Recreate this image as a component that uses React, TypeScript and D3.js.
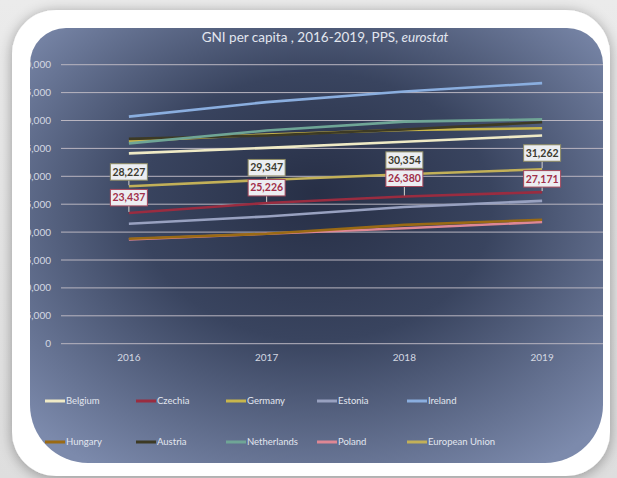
import React from "react";
import * as d3 from "d3";

const years = ["2016", "2017", "2018", "2019"];
const belgium = [34100, 35100, 36200, 37300];
const czechia = [23437, 25226, 26380, 27171];
const germany = [36300, 37500, 38300, 38600];
const estonia = [21500, 22800, 24500, 25600];
const ireland = [40700, 43300, 45200, 46700];
const hungary = [18800, 19700, 21300, 22200];
const austria = [36700, 37300, 38400, 39700];
const netherlands = [35900, 38200, 39800, 40200];
const poland = [18700, 19700, 20700, 21800];
const europeanUnion = [28227, 29347, 30354, 31262];
const yTicks = [0, 5000, 10000, 15000, 20000, 25000, 30000, 35000, 40000, 45000, 50000];

const seriesNames = ["Belgium", "Czechia", "Germany", "Estonia", "Ireland", "Hungary", "Austria", "Netherlands", "Poland", "European Union"];
const seriesValues = [belgium, czechia, germany, estonia, ireland, hungary, austria, netherlands, poland, europeanUnion];
const seriesColors = ["#efeac6", "#9a2c40", "#c8b64c", "#98a1c0", "#8aaedf", "#9a6a14", "#3d3a24", "#6fa596", "#de8794", "#c2b058"];
// draw order (back to front)
const drawOrder = [8, 5, 3, 1, 9, 0, 2, 6, 7, 4];

const W = 617;
const H = 478;
const panel = { x: 30, y: 28, w: 573, h: 435 };

export default function App() {
  const x = d3.scalePoint<string>().domain(years).range([60, 611]).padding(0.5);
  const y = d3.scaleLinear().domain([0, 50000]).range([343.7, 64.7]);
  const line = d3
    .line<number>()
    .x((_, i) => x(years[i]) as number)
    .y((d) => y(d));

  const fmt = d3.format(",");
  const labelSeries = [
    { idx: 9, lift: [6, 4, 6, 8], border: "#8e8b62", text: "#3b3a2e" },
    { idx: 1, lift: [7, 7, 10, 5], border: "#a4465a", text: "#a1304a" },
  ];

  const legendCols = [45, 136, 226, 317, 407];
  const legendRows = [401, 442];

  const p = panel;
  const r1 = 36;
  const r2 = 58;
  const panelPath = `M${p.x + r1},${p.y} H${p.x + p.w - r1} A${r1},${r1} 0 0 1 ${p.x + p.w},${p.y + r1} V${p.y + p.h - r2} A${r2},${r2} 0 0 1 ${p.x + p.w - r2},${p.y + p.h} H${p.x + r2} A${r2},${r2} 0 0 1 ${p.x},${p.y + p.h - r2} V${p.y + r1} A${r1},${r1} 0 0 1 ${p.x + r1},${p.y} Z`;

  const font = "Lato, 'Open Sans', sans-serif";

  return (
    <svg width={W} height={H} style={{ position: "absolute", left: 0, top: 0 }} fontFamily={font}>
      <defs>
        <radialGradient id="bg" cx="50%" cy="45%" r="68%" fx="50%" fy="38%">
          <stop offset="0%" stopColor="#272f46" />
          <stop offset="45%" stopColor="#39445f" />
          <stop offset="100%" stopColor="#7c8aac" />
        </radialGradient>
        <linearGradient id="page" x1="0" y1="0" x2="0" y2="1">
          <stop offset="0%" stopColor="#ebebeb" />
          <stop offset="100%" stopColor="#dedede" />
        </linearGradient>
        <filter id="shadow" x="-10%" y="-10%" width="120%" height="120%">
          <feGaussianBlur in="SourceAlpha" stdDeviation="7" />
          <feOffset dx="0" dy="2" result="b" />
          <feComponentTransfer>
            <feFuncA type="linear" slope="0.35" />
          </feComponentTransfer>
          <feMerge>
            <feMergeNode />
            <feMergeNode in="SourceGraphic" />
          </feMerge>
        </filter>
        <clipPath id="panelClip">
          <path d={panelPath} />
        </clipPath>
      </defs>

      <rect x={0} y={0} width={W} height={H} fill="url(#page)" />
      <rect x={12} y={10} width={598} height={466} rx={44} ry={44} fill="#ffffff" filter="url(#shadow)" />
      <path d={panelPath} fill="url(#bg)" />

      <g clipPath="url(#panelClip)">
        <text x={325} y={42} textAnchor="middle" fontSize={13.5} fill="#e2e6ef">
          GNI per capita , 2016-2019, PPS, <tspan fontStyle="italic">eurostat</tspan>
        </text>

        {yTicks.map((t) => (
          <g key={t}>
            <line x1={61} x2={612} y1={y(t)} y2={y(t)} stroke="#b9b5c0" strokeWidth={1} />
            <text x={51} y={y(t)} dy="0.35em" textAnchor="end" fontSize={10} fill="#d4d8e2">
              {fmt(t)}
            </text>
          </g>
        ))}

        {years.map((yr) => (
          <text key={yr} x={x(yr)} y={361} textAnchor="middle" fontSize={10} fill="#d4d8e2">
            {yr}
          </text>
        ))}

        {drawOrder.map((i) => (
          <path key={seriesNames[i]} d={line(seriesValues[i]) || ""} fill="none" stroke={seriesColors[i]} strokeWidth={2.6} />
        ))}

        {labelSeries.map((ls) =>
          seriesValues[ls.idx].map((v, j) => {
            const cx = x(years[j]) as number;
            const py = y(v);
            const bh = 16.5;
            const bw = 37;
            const bottom = py - ls.lift[j];
            return (
              <g key={`${ls.idx}-${j}`}>
                <line x1={cx} x2={cx} y1={bottom} y2={py - 1} stroke="#d8d4d0" strokeWidth={1} />
                <rect x={cx - bw / 2} y={bottom - bh} width={bw} height={bh} fill="#eceef2" stroke={ls.border} strokeWidth={1} />
                <text x={cx} y={bottom - bh / 2} dy="0.36em" textAnchor="middle" fontSize={10.5} fontWeight="bold" fill={ls.text}>
                  {fmt(v)}
                </text>
              </g>
            );
          })
        )}

        {seriesNames.map((name, i) => {
          const lx = legendCols[i % 5];
          const ly = legendRows[Math.floor(i / 5)];
          return (
            <g key={name}>
              <line x1={lx} x2={lx + 20} y1={ly} y2={ly} stroke={seriesColors[i]} strokeWidth={3} />
              <text x={lx + 21} y={ly} dy="0.35em" fontSize={9.5} fill="#e2e6ef">
                {name}
              </text>
            </g>
          );
        })}
      </g>
    </svg>
  );
}
